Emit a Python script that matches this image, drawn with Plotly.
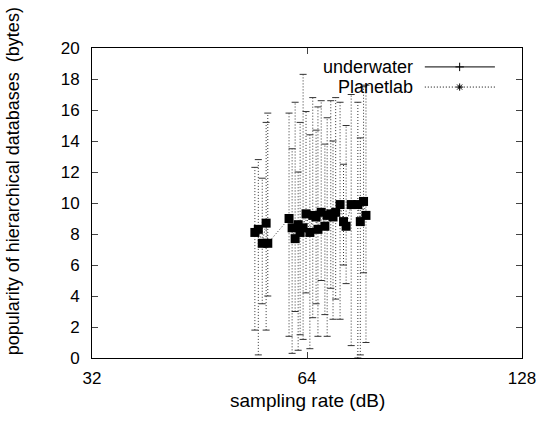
import plotly.graph_objects as go

# Planetlab series: x (sampling rate), y (mean), low / high of the error bar
plX = [54.1, 54.7, 55.4, 56.1, 56.4, 60.4, 61.0, 61.6, 62.2, 62.6,
       63.2, 63.8, 64.6, 65.2, 65.9, 66.3, 67.0, 67.8, 68.3, 69.1,
       69.6, 70.2, 71.2, 72.0, 72.6, 73.8, 75.4, 76.0, 76.8, 77.4]
plY = [8.1, 8.3, 7.4, 8.7, 7.4, 9.0, 8.4, 7.7, 8.6, 8.1,
       8.4, 9.3, 8.1, 9.2, 9.1, 8.3, 9.4, 8.5, 9.2, 9.3,
       9.1, 9.4, 9.9, 8.8, 8.5, 9.9, 9.9, 8.8, 10.1, 9.2]
plLo = [1.8, 0.2, 3.5, 1.8, 4.0, 1.4, 0.3, 3.0, 0.5, 1.5,
        1.2, 4.2, 0.6, 2.6, 3.5, 1.4, 5.0, 2.8, 1.4, 4.5,
        2.5, 3.8, 2.5, 6.0, 4.8, 0.8, 0.0, 0.2, 5.5, 1.0]
plHi = [12.3, 12.8, 11.6, 15.2, 15.8, 15.8, 13.5, 16.5, 12.0, 15.2,
        18.3, 15.9, 14.4, 16.8, 14.7, 16.2, 16.6, 13.8, 15.5, 16.6,
        14.0, 16.8, 16.5, 12.5, 15.0, 17.0, 16.5, 14.2, 17.5, 17.6]
# underwater series: nothing visible in the plot
uwX = []
uwY = []

errX, errY = [], []
for x, lo, hi in zip(plX, plLo, plHi):
    errX += [x, x, None]
    errY += [lo, hi, None]

FONT = 'Liberation Sans, Arial, sans-serif'

fig = go.Figure()
fig.add_trace(go.Scatter(x=errX, y=errY, mode='lines+markers',
                         line=dict(color='#333333', width=1, dash='1px,2px'),
                         marker=dict(symbol='line-ew', size=5,
                                     line=dict(color='#333333', width=1)),
                         showlegend=False, hoverinfo='skip'))
fig.add_trace(go.Scatter(x=plX, y=plY, mode='lines+markers', name='Planetlab',
                         line=dict(color='#333333', width=1, dash='1px,2px'),
                         marker=dict(symbol='square', size=9, color='black'),
                         showlegend=False))
fig.add_trace(go.Scatter(x=uwX, y=uwY, mode='lines', name='underwater',
                         line=dict(color='black', width=1), showlegend=False))

# gnuplot style key: text on the left, sample on the right
keys = [('underwater', 'solid', 'cross-thin'), ('Planetlab', '1px,2px', 'asterisk')]
for i, (name, dash, sym) in enumerate(keys):
    yk = 0.939 - i * 0.065
    fig.add_annotation(x=0.751, y=yk, xref='paper', yref='paper', text=name,
                       showarrow=False, xanchor='right', yanchor='middle',
                       font=dict(family=FONT, size=18, color='black'))
    fig.add_shape(type='line', xref='paper', yref='paper', x0=0.774, x1=0.937,
                  y0=yk, y1=yk, line=dict(color='black', width=1, dash=dash))
    fig.add_trace(go.Scatter(x=[0.855], y=[yk], xaxis='x2', yaxis='y2', mode='markers',
                             marker=dict(symbol=sym, size=6, color='black',
                                         line=dict(color='black', width=1)),
                             showlegend=False, hoverinfo='skip'))

# y label placed like gnuplot does (not centred on the plot box)
fig.add_annotation(x=-0.183, y=0.571, xref='paper', yref='paper',
                   text='popularity of hierarchical databases  (bytes)', textangle=-90,
                   showarrow=False, xanchor='center', yanchor='middle',
                   font=dict(family=FONT, size=18, color='black'))

# x label as annotation too, so its size is set directly
fig.add_annotation(x=0.5, y=-0.137, xref='paper', yref='paper',
                   text='sampling rate (dB)', showarrow=False,
                   xanchor='center', yanchor='middle',
                   font=dict(family=FONT, size=19, color='black'))

fig.update_layout(
    width=542, height=425,
    margin=dict(l=92, r=20, t=48, b=67),
    paper_bgcolor='white', plot_bgcolor='white',
    font=dict(family=FONT, size=17, color='black'),
    xaxis=dict(type='log', range=[1.50515, 2.10721], tickvals=[32, 64, 128],
               ticktext=['32', '64', '128'], ticks='inside', ticklen=6,
               ticklabelstandoff=5, automargin=False,
               showgrid=False, zeroline=False, showline=True, linecolor='black',
               linewidth=1, mirror='ticks'),
    yaxis=dict(range=[0, 20], dtick=2, ticks='inside', ticklen=6,
               ticklabelstandoff=8, automargin=False,
               showgrid=False, zeroline=False, showline=True, linecolor='black',
               linewidth=1, mirror='ticks'),
    xaxis2=dict(range=[0, 1], overlaying='x', visible=False),
    yaxis2=dict(range=[0, 1], overlaying='y', visible=False),
)

fig.write_html("out.html", config={'displayModeBar': False},
               post_script="document.body.style.margin='0';")
